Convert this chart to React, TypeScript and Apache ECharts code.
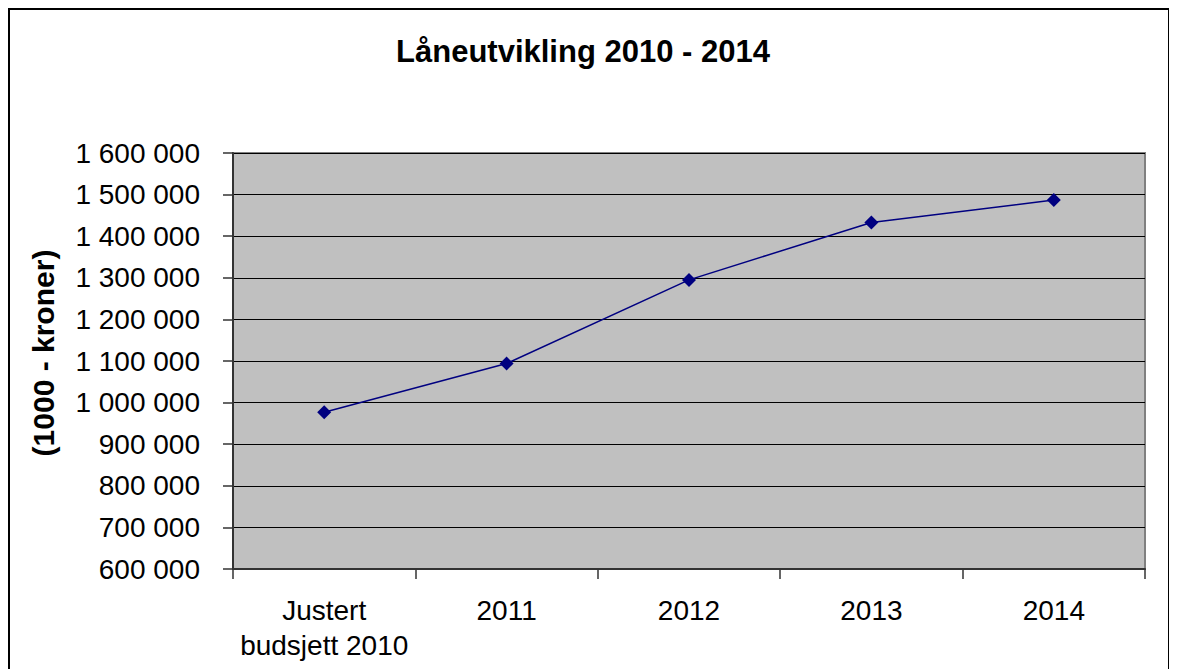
import React, { useEffect, useRef } from "react";
import * as echarts from "echarts";

const categories = ["Justert\nbudsjett 2010", "2011", "2012", "2013", "2014"];
const loanValues = [977000, 1094000, 1295000, 1433000, 1487000];
const yMin = 600000;
const yMax = 1600000;
const yStep = 100000;

const FONT = "Liberation Sans";

function fmt(v: number): string {
  return String(Math.round(v)).replace(/\B(?=(\d{3})+(?!\d))/g, " ");
}

export default function App() {
  const ref = useRef<HTMLDivElement>(null);
  useEffect(() => {
    if (!ref.current) return;
    const chart = echarts.init(ref.current, undefined, { renderer: "svg" });
    chart.setOption({
      animation: false,
      backgroundColor: "#ffffff",
      title: {
        text: "Låneutvikling 2010 - 2014",
        left: 573,
        top: 26,
        textAlign: "center",
        padding: 0,
        textStyle: { fontFamily: FONT, fontSize: 31, fontWeight: "bold", color: "#000" },
      },
      graphic: [
        {
          type: "text",
          x: 33,
          y: 343,
          rotation: Math.PI / 2,
          style: {
            text: "(1000 - kroner)",
            fontFamily: FONT,
            fontSize: 30,
            fontWeight: "bold",
            fill: "#000",
            align: "center",
            verticalAlign: "middle",
          },
        },
      ],
      grid: {
        left: 223,
        top: 143,
        width: 912,
        height: 416,
        show: true,
        backgroundColor: "#C0C0C0",
        borderColor: "#808080",
        borderWidth: 2,
      },
      xAxis: {
        type: "category",
        data: categories,
        boundaryGap: true,
        axisLine: { show: true, lineStyle: { color: "#333", width: 2 } },
        axisTick: { show: true, length: 10, lineStyle: { color: "#333", width: 1.5 } },
        axisLabel: {
          margin: 24,
          fontFamily: FONT,
          fontSize: 28,
          lineHeight: 35,
          color: "#000",
          interval: 0,
        },
        splitLine: { show: false },
      },
      yAxis: {
        type: "value",
        min: yMin,
        max: yMax,
        interval: yStep,
        axisLine: { show: true, lineStyle: { color: "#333", width: 2 } },
        axisTick: { show: true, length: 10, lineStyle: { color: "#333", width: 1.5 } },
        axisLabel: {
          margin: 33,
          fontFamily: FONT,
          fontSize: 28,
          color: "#000",
          formatter: (v: number) => fmt(v),
        },
        splitLine: { show: true, lineStyle: { color: "#000", width: 1 } },
      },
      series: [
        {
          type: "line",
          data: loanValues,
          symbol: "diamond",
          symbolSize: 14,
          showSymbol: true,
          itemStyle: { color: "#000080" },
          lineStyle: { color: "#000080", width: 1.5 },
        },
      ],
    });
    return () => chart.dispose();
  }, []);

  return (
    <div
      style={{
        width: 1158,
        height: 700,
        borderTop: "2px solid #000",
        borderLeft: "2px solid #000",
        borderRight: "2px solid #000",
      }}
    >
      <div ref={ref} style={{ width: 1158, height: 700 }} />
    </div>
  );
}
